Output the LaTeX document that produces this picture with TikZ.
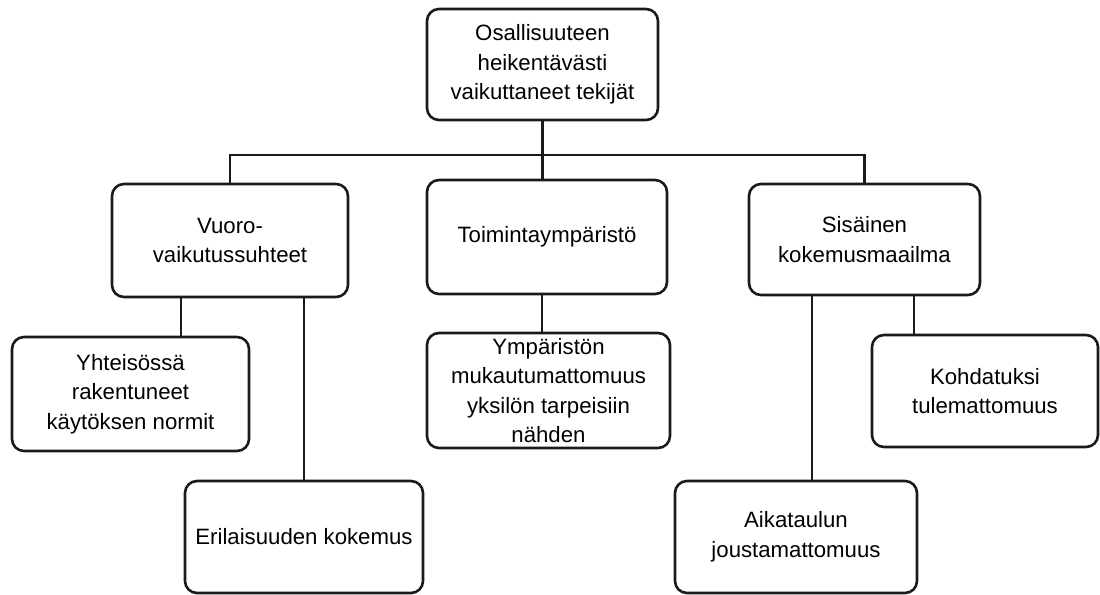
\documentclass[tikz,border=0pt]{standalone}
\usepackage{fontspec}
\setmainfont{Liberation Sans}
\usepackage{xcolor}
\usetikzlibrary{positioning}
\definecolor{boxline}{HTML}{1A1A1A}

\begin{document}
\begin{tikzpicture}[x=0.5pt, y=-0.5pt,
    align=center,
    block/.style={draw=boxline, rounded corners=6pt, line width=1.3pt, inner sep=0pt,
      font=\fontsize{11.1}{14.75}\selectfont},
    link/.style={draw=boxline, line width=1.2pt}]
  \useasboundingbox (0,0) rectangle (1100,595);
  % main factor
  \node[block, minimum width=115.5pt, minimum height=55.5pt] (top) at (542.5,64.5) {Osallisuuteen\\heikentävästi\\vaikuttaneet tekijät};
  % themes
  \node[block, minimum width=118pt, minimum height=56.5pt] (vuoro) at (230,240.5) {Vuoro-\\vaikutussuhteet};
  \node[block, minimum width=120pt, minimum height=57pt] (toim) at (547,237) {Toimintaympäristö};
  \node[block, minimum width=115.5pt, minimum height=55.5pt] (sis) at (864.5,239.5) {Sisäinen\\kokemusmaailma};
  % sub themes
  \node[block, minimum width=118.5pt, minimum height=57pt] (yht) at (130.5,394) {Yhteisössä\\rakentuneet\\käytöksen normit};
  \node[block, minimum width=119pt, minimum height=56pt] (eril) at (304,537) {Erilaisuuden kokemus};
  \node[block, minimum width=121.5pt, minimum height=57.5pt] (ymp) at (548.5,390.5) {Ympäristön\\mukautumattomuus\\yksilön tarpeisiin\\nähden};
  \node[block, minimum width=121pt, minimum height=56pt] (aika) at (796,537) {Aikataulun\\joustamattomuus};
  \node[block, minimum width=113pt, minimum height=56pt] (kohd) at (985,391) {Kohdatuksi\\tulemattomuus};
  % connectors
  \coordinate (bar) at (542.5,155);
  \draw[link] (vuoro.north) |- (bar) -| (sis.north);
  \draw[link] (top.south) -- (top.south |- toim.north);
  \draw[link] ([xshift=-24.5pt]vuoro.south) -- ([xshift=-24.5pt]vuoro.south |- yht.north);
  \draw[link] (vuoro.south -| eril.north) -- (eril.north);
  \draw[link] ([xshift=-2.5pt]toim.south) -- ([xshift=-2.5pt]toim.south |- ymp.north);
  \draw[link] ([xshift=-26.25pt]sis.south) -- ([xshift=-26.25pt]sis.south |- aika.north);
  \draw[link] ([xshift=24.75pt]sis.south) -- ([xshift=24.75pt]sis.south |- kohd.north);
\end{tikzpicture}
\end{document}
